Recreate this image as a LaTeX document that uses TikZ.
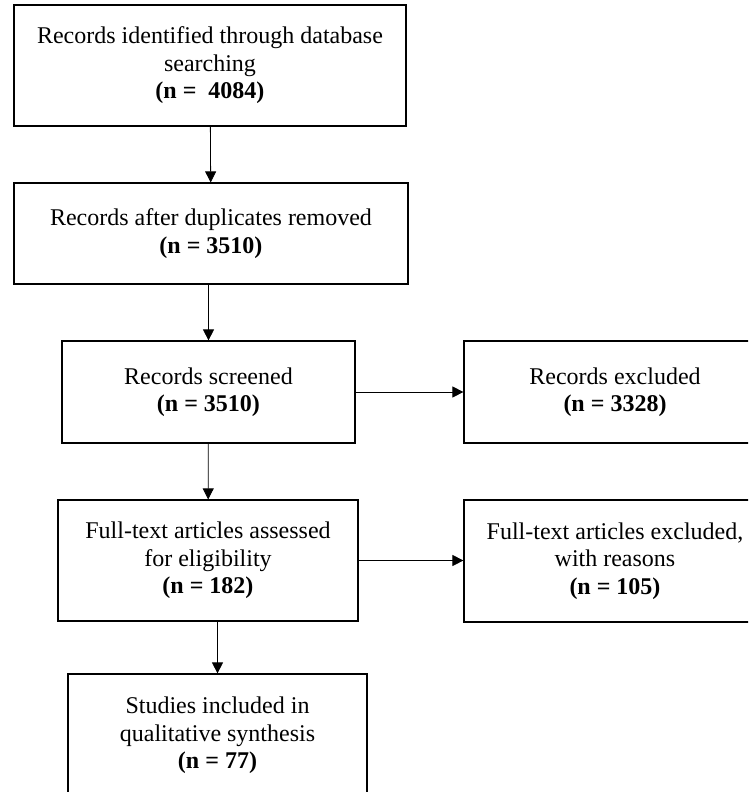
\documentclass[tikz,border=0pt]{standalone}
\usepackage{fontspec}
\setmainfont{Liberation Serif}
\usetikzlibrary{arrows.meta}

\tikzset{
  stage/.style={draw, line width=1.2pt, align=center, inner sep=0pt,
    font=\fontsize{24}{27.5}\selectfont},
  flow/.style={line width=0.8pt, -{Triangle[width=11pt,length=11pt]}}
}

\begin{document}
\begin{tikzpicture}[x=1pt, y=-1pt]
    \useasboundingbox (0,0) rectangle (748,792);
    \clip (0,0) rectangle (748,792);

    \node[stage, minimum width=392pt, minimum height=121pt] (ident) at (210,65.5)
        {Records identified through database\\ searching\\ \textbf{(n = \ 4084)}};
    \node[stage, minimum width=394pt, minimum height=101pt] (dupl) at (211,233.5)
        {Records after duplicates removed\\ \textbf{(n = 3510)}};
    \node[stage, minimum width=293pt, minimum height=102pt] (screen) at (208.5,392)
        {Records screened\\ \textbf{(n = 3510)}};
    \node[stage, minimum width=302pt, minimum height=102pt] (excl) at (615,392)
        {Records excluded\\ \textbf{(n = 3328)}};
    \node[stage, minimum width=300pt, minimum height=121pt] (full) at (208,560.5)
        {Full-text articles assessed\\ for eligibility\\ \textbf{(n = 182)}};
    \node[stage, minimum width=302pt, minimum height=122pt] (fullex) at (615,561)
        {Full-text articles excluded,\\ with reasons\\ \textbf{(n = 105)}};
    \node[stage, minimum width=299pt, minimum height=123pt] (incl) at (217.5,735.5)
        {Studies included in\\ qualitative synthesis\\ \textbf{(n = 77)}};

    \draw[flow] (ident) -- (dupl);
    \draw[flow] (screen.north |- dupl.south) -- (screen);
    \draw[flow] (screen) -- (excl);
    \draw[flow] (screen) -- (full);
    \draw[flow] (full) -- (fullex.west |- full.east);
    \draw[flow] (incl.north |- full.south) -- (incl);

\end{tikzpicture}
\end{document}
